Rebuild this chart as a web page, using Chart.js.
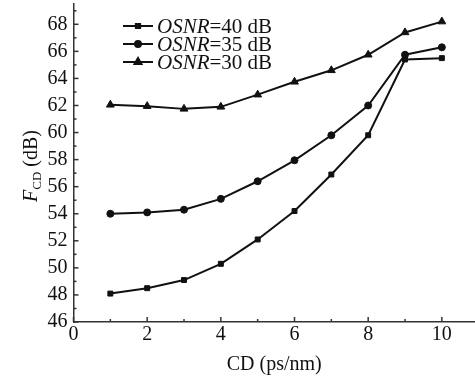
<!DOCTYPE html>
<html>
<head>
<meta charset="utf-8">
<script src="https://cdn.jsdelivr.net/npm/chart.js@4.4.1/dist/chart.umd.min.js"></script>
<style>
  html, body { margin: 0; padding: 0; background: #fff; }
  #wrap { width: 475px; height: 377px; position: relative; }
</style>
</head>
<body>
<div id="wrap"><canvas id="chart" width="475" height="377"></canvas></div>
<script>
// data
const cdValues = [1, 2, 3, 4, 5, 6, 7, 8, 9, 10];
const osnr40 = [48.1, 48.5, 49.1, 50.3, 52.1, 54.2, 56.9, 59.8, 65.4, 65.5];
const osnr35 = [54.0, 54.1, 54.3, 55.1, 56.4, 57.95, 59.8, 62.0, 65.75, 66.3];
const osnr30 = [62.05, 61.95, 61.75, 61.9, 62.8, 63.75, 64.6, 65.75, 67.4, 68.2];
const seriesNames = ['=40 dB', '=35 dB', '=30 dB'];
const xMajor = [0, 2, 4, 6, 8, 10];
const xMinor = [1, 3, 5, 7, 9];
const yMajor = [46, 48, 50, 52, 54, 56, 58, 60, 62, 64, 66, 68];
const yMinor = [47, 49, 51, 53, 55, 57, 59, 61, 63, 65, 67, 69];

const FONT = '"Liberation Serif", "Times New Roman", serif';
const INK = '#111';

function pts(arr) {
    return cdValues.map((x, i) => ({ x: x, y: arr[i] }));
}

const markers = ['rect', 'circle', 'triangle'];
const radii = [3.5, 3.5, 4.5];

// ticks pointing into the plot, major + minor
const tickPlugin = {
    id: 'inTicks',
    afterDraw(chart) {
        const c = chart.ctx;
        const xs = chart.scales.x, ys = chart.scales.y;
        c.save();
        c.strokeStyle = '#333';
        c.lineWidth = 1.5;
        function xt(v, len) {
            const p = xs.getPixelForValue(v);
            c.beginPath(); c.moveTo(p, ys.bottom); c.lineTo(p, ys.bottom - len); c.stroke();
        }
        function yt(v, len) {
            const p = ys.getPixelForValue(v);
            c.beginPath(); c.moveTo(xs.left, p); c.lineTo(xs.left + len, p); c.stroke();
        }
        xMajor.forEach(v => xt(v, 5));
        xMinor.forEach(v => xt(v, 3));
        yMajor.forEach(v => yt(v, 5));
        yMinor.forEach(v => yt(v, 3));
        c.restore();
    }
};

// legend with italic OSNR, and the y title with subscript
const textPlugin = {
    id: 'texts',
    afterDraw(chart) {
        const c = chart.ctx;
        c.save();
        c.fillStyle = INK;
        c.strokeStyle = INK;
        c.textBaseline = 'middle';

        seriesNames.forEach((name, i) => {
            const y = 26 + i * 18;
            c.lineWidth = 2;
            c.beginPath(); c.moveTo(123, y); c.lineTo(153, y); c.stroke();
            Chart.helpers.drawPoint(c, {
                pointStyle: markers[i], radius: radii[i] - 0.5, rotation: 0, borderWidth: 1
            }, 138, y);
            c.fill();
            c.font = 'italic 21px ' + FONT;
            c.fillText('OSNR', 157, y + 1);
            const w = c.measureText('OSNR').width;
            c.font = '21px ' + FONT;
            c.fillText(name, 157 + w, y + 1);
        });

        // y title, rotated
        c.translate(30, 166);
        c.rotate(-Math.PI / 2);
        c.textBaseline = 'alphabetic';
        c.font = 'italic 20px ' + FONT;
        const wF = c.measureText('F').width;
        c.font = '13px ' + FONT;
        const wCD = c.measureText('CD').width;
        c.font = '20px ' + FONT;
        const wRest = c.measureText(' (dB)').width;
        let x0 = -(wF + wCD + wRest) / 2;
        c.font = 'italic 20px ' + FONT;
        c.fillText('F', x0, 7);
        x0 += wF;
        c.font = '13px ' + FONT;
        c.fillText('CD', x0, 11);
        x0 += wCD;
        c.font = '20px ' + FONT;
        c.fillText(' (dB)', x0, 7);
        c.restore();
    }
};

const datasets = [osnr40, osnr35, osnr30].map((arr, i) => ({
    data: pts(arr),
    borderColor: INK,
    backgroundColor: INK,
    borderWidth: 2,
    pointStyle: markers[i],
    pointRadius: radii[i],
    pointBorderWidth: 1,
    tension: 0,
    clip: false
}));

new Chart(document.getElementById('chart'), {
    type: 'line',
    data: { datasets: datasets },
    options: {
        responsive: false,
        animation: false,
        layout: { autoPadding: false, padding: { top: 4, right: 0, left: 0, bottom: 0 } },
        plugins: { legend: { display: false }, tooltip: { enabled: false } },
        scales: {
            x: {
                type: 'linear',
                min: 0,
                max: 10.9,
                afterBuildTicks: s => { s.ticks = xMajor.map(v => ({ value: v })); },
                afterFit: s => { s.height = 55; s.paddingLeft = 0; s.paddingRight = 0; },
                grid: { display: false, drawTicks: false },
                border: { display: true, color: '#333', width: 1.5 },
                ticks: { color: INK, padding: 1, font: { family: FONT, size: 20 } },
                title: {
                    display: true, text: 'CD (ps/nm)', color: INK,
                    font: { family: FONT, size: 20 }, padding: { top: 0, bottom: 0 }
                }
            },
            y: {
                min: 46,
                max: 69.5,
                afterBuildTicks: s => { s.ticks = yMajor.map(v => ({ value: v })); },
                afterFit: s => { s.width = 73.5; s.paddingTop = 0; s.paddingBottom = 0; },
                grid: { display: false, drawTicks: false },
                border: { display: true, color: '#333', width: 1.5 },
                ticks: { color: INK, padding: 6, font: { family: FONT, size: 20 } }
            }
        }
    },
    plugins: [tickPlugin, textPlugin]
});
</script>
</body>
</html>
